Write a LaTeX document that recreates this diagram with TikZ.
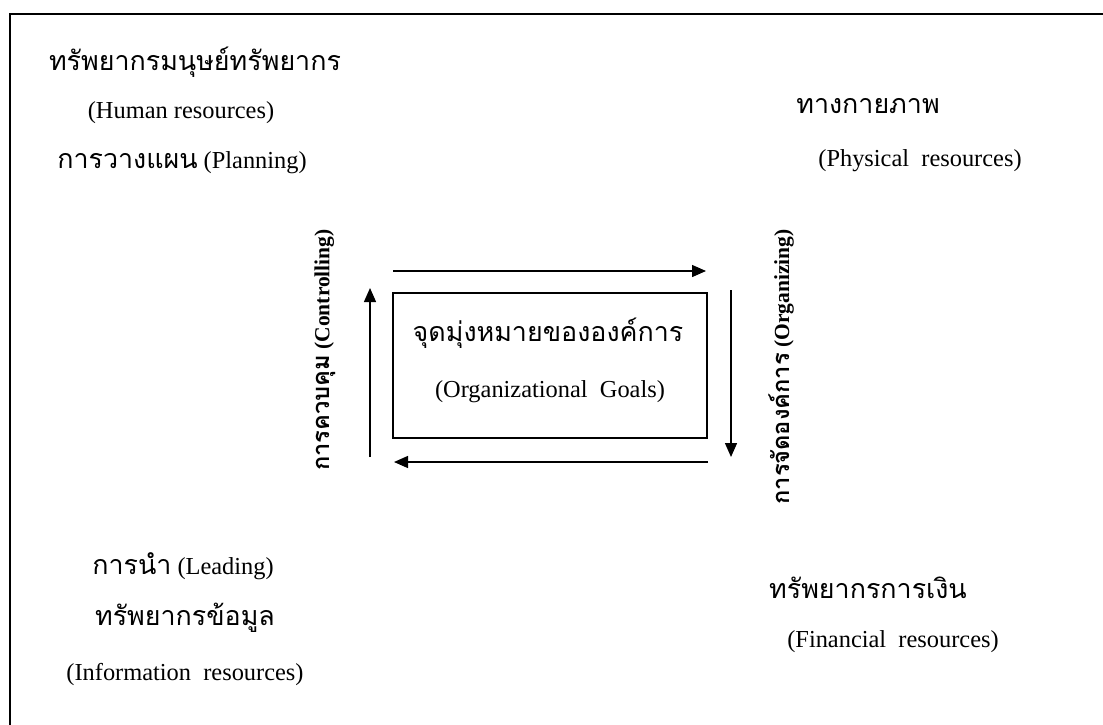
\documentclass[tikz,border=0pt]{standalone}
\usepackage{fontspec}
\setmainfont{Liberation Serif}
\newfontfamily\thai[Script=Thai,Scale=1.1]{Loma}
\usetikzlibrary{arrows.meta}
\tikzset{
  lbl/.style={inner sep=0pt, font=\fontsize{24.4}{28}\selectfont, anchor=center},
  side/.style={inner sep=0pt, font=\bfseries\fontsize{21.5}{24}\selectfont, rotate=90, anchor=center},
  flow/.style={line width=1.4pt, -{Triangle[length=14pt,width=12pt]}},
  frame/.style={line width=2pt}
}
\begin{document}
\begin{tikzpicture}[x=1pt,y=-1pt]
\useasboundingbox (0,0) rectangle (1103,725);
\draw[frame] (10,725) -- (10,14) -- (1103,14);

\node[lbl] (hr1) at (195,62) {\thai ทรัพยากรมนุษย์ทรัพยากร};
\node[lbl] (hr2) at (181,113) {(Human resources)};
\node[lbl] (plan) at (182,163) {{\thai การวางแผน} (Planning)};
\node[lbl] (ph1) at (868,106) {\thai ทางกายภาพ};
\node[lbl] (ph2) at (920,161) {(Physical\ \ resources)};
\node[lbl] (lead) at (183,566) {{\thai การนำ} (Leading)};
\node[lbl] (in1) at (185,618) {\thai ทรัพยากรข้อมูล};
\node[lbl] (in2) at (185,675) {(Information\ \ resources)};
\node[lbl] (fi1) at (868,588) {\thai ทรัพยากรการเงิน};
\node[lbl] (fi2) at (893,642) {(Financial\ \ resources)};

\node[draw, line width=1.4pt, minimum width=314pt, minimum height=145pt, inner sep=0pt] (goal) at (550,365.5) {};
\node[lbl] (g1) at (548,333) {\thai จุดมุ่งหมายขององค์การ};
\node[lbl] (g2) at (550,392) {(Organizational\ \ Goals)};

\node[side] (ctrl) at (325,350) {{\thai การควบคุม} (Controlling)};
\node[side] (org) at (781,367) {{\thai การจัดองค์การ} (Organizing)};

\coordinate (ta) at (393,271);
\coordinate (tb) at (706,271);
\coordinate (ra) at (731,290);
\coordinate (rb) at (731,457);
\coordinate (ba) at (708,462);
\coordinate (bb) at (394,462);
\coordinate (la) at (370,457);
\coordinate (lb) at (370,288);
\draw[flow] (ta) -- (tb);
\draw[flow] (ra) -- (rb);
\draw[flow] (ba) -- (bb);
\draw[flow] (la) -- (lb);
\end{tikzpicture}
\end{document}
